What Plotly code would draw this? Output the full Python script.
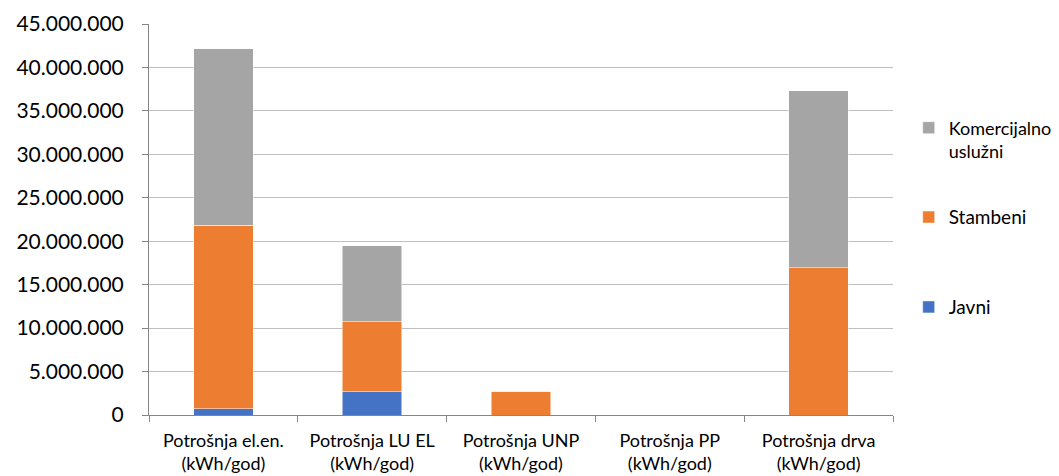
import plotly.graph_objects as go

categories = [
    "Potrošnja el.en.<br>(kWh/god)",
    "Potrošnja LU EL<br>(kWh/god)",
    "Potrošnja UNP<br>(kWh/god)",
    "Potrošnja PP<br>(kWh/god)",
    "Potrošnja drva<br>(kWh/god)",
]
javni = [730000, 2650000, 0, 0, 0]
stambeni = [21100000, 8100000, 2730000, 0, 16940000]
komercijalno = [20330000, 8720000, 0, 0, 20390000]

series = [
    ("Javni", javni, "#4472C4", "legend3"),
    ("Stambeni", stambeni, "#ED7D31", "legend2"),
    ("Komercijalno<br>uslužni", komercijalno, "#A5A5A5", "legend"),
]

fig = go.Figure()
for name, vals, col, leg in series:
    fig.add_trace(go.Bar(
        x=categories, y=vals, name=name, legend=leg,
        marker=dict(color=col, line=dict(color="white", width=0.5)),
    ))

# one legend per series so the entries can sit far apart like the original
leg_style = dict(xref="container", yref="container", x=0.857, xanchor="left",
                 yanchor="middle", font=dict(size=19), itemwidth=30,
                 valign="top", bgcolor="rgba(0,0,0,0)")

# page body has an 8px margin, so the figure is a bit smaller than the window
fig.update_layout(
    barmode="stack",
    bargap=0.6,
    showlegend=True,
    width=1051, height=468,
    margin=dict(l=141, r=166, t=16, b=61),
    plot_bgcolor="white", paper_bgcolor="white",
    separators=",.",
    font=dict(family="Lato, Open Sans, sans-serif", color="#000000"),
    legend=dict(leg_style, y=0.719, font=dict(size=18)),
    legend2=dict(leg_style, y=0.553),
    legend3=dict(leg_style, y=0.361),
)
fig.update_yaxes(
    range=[0, 45000000], dtick=5000000, tickformat=",d",
    showgrid=True, gridcolor="#BFBFBF", gridwidth=1,
    showline=True, linecolor="#868686", linewidth=1,
    ticks="outside", tickcolor="#868686", ticklen=6,
    tickfont=dict(size=21), zeroline=False,
    ticklabelstandoff=14, automargin=False,
)
fig.update_xaxes(
    showline=True, linecolor="#868686", linewidth=1,
    ticks="outside", tickson="boundaries", tickcolor="#868686", ticklen=6,
    tickfont=dict(size=18), ticklabelstandoff=9, automargin=False,
)

fig.write_html("out.html")
